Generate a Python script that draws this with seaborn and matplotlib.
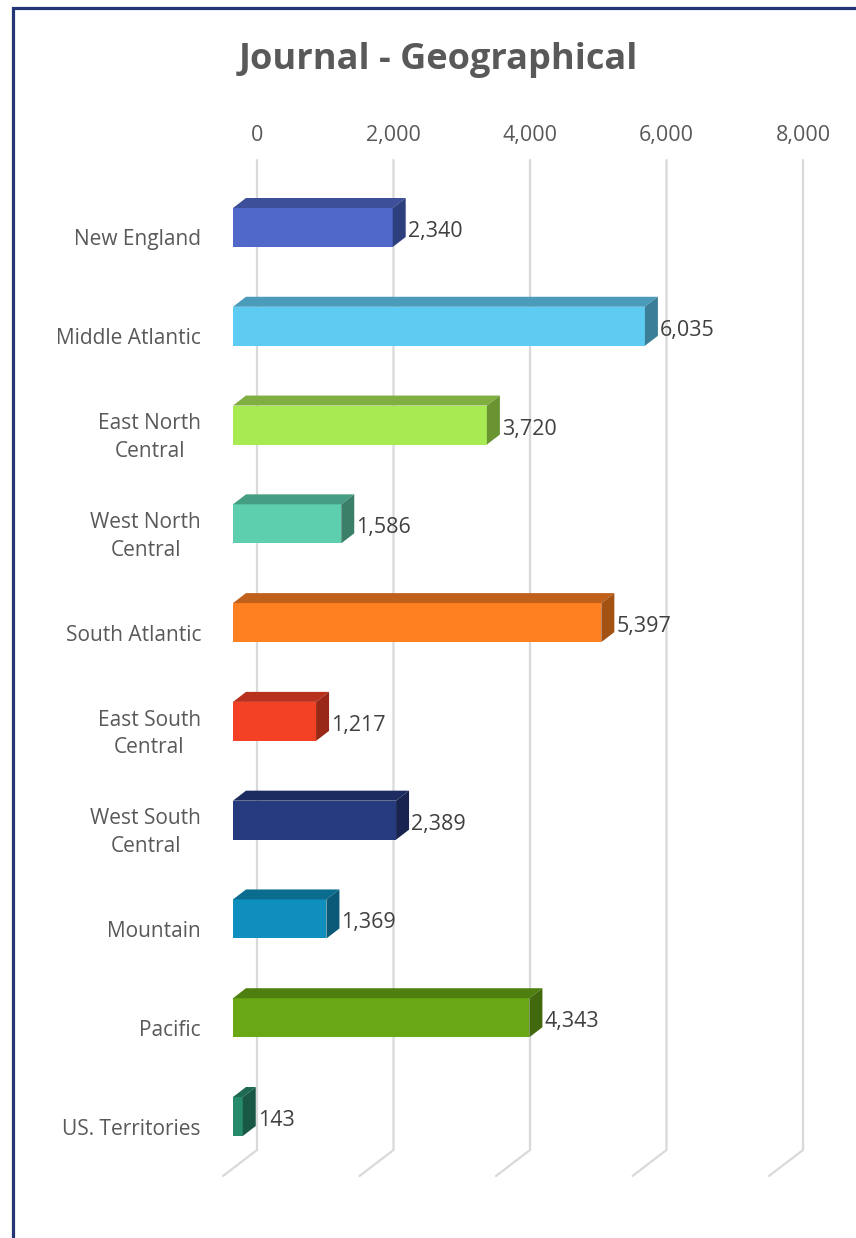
import numpy as np
import pandas as pd
import matplotlib
matplotlib.use("Agg")
import matplotlib.pyplot as plt
from matplotlib.patches import Polygon
from matplotlib.lines import Line2D
import seaborn as sns

# ---------------- data ----------------
regions = ["New England", "Middle Atlantic", "East North\nCentral", "West North\nCentral",
           "South Atlantic", "East South\nCentral", "West South\nCentral", "Mountain",
           "Pacific", "US. Territories"]
values = [2340, 6035, 3720, 1586, 5397, 1217, 2389, 1369, 4343, 143]
tick_values = [0, 2000, 4000, 6000, 8000]
tick_labels = ["0", "2,000", "4,000", "6,000", "8,000"]
title = "Journal - Geographical"

front_colors = ["#4F68C9", "#5ECBF2", "#A7EA52", "#5DCFAE", "#FF8021",
                "#F24125", "#263A7E", "#0F8FBE", "#69A814", "#278B6B"]
top_colors = ["#3C4F98", "#4A9CBA", "#80AE40", "#459E84", "#C0601A",
              "#B8311C", "#1D2C60", "#0C6C8F", "#4F7F10", "#1E6951"]
side_colors = ["#2E3F7E", "#3A7E97", "#6A9432", "#3A8069", "#A35214",
               "#992816", "#18244F", "#0A5A77", "#42690D", "#1A5846"]

# ---------------- layout ----------------
W, H, DPI = 856, 1238, 100
PXU = 136.5 / 2000.0          # pixels per data unit (x)
ROW = 98.78                   # pixels per category row
AX_L, AX_TOP, AX_BOT = 233, 160, 1150
AX_W = W - AX_L

sns.set_theme(style="white")
plt.rcParams["font.family"] = ["Open Sans", "DejaVu Sans"]

fig = plt.figure(figsize=(W / DPI, H / DPI), dpi=DPI)
fig.patch.set_facecolor("white")
ax = fig.add_axes([AX_L / W, 1 - AX_BOT / H, AX_W / W, (AX_BOT - AX_TOP) / H])

df = pd.DataFrame({"region": regions, "value": values})
sns.barplot(data=df, x="value", y="region", hue="region", palette=front_colors,
            orient="h", width=39 / ROW, legend=False, ax=ax, saturation=1,
            linewidth=0, zorder=3)

ax.set_xlim(0, AX_W / PXU)
ax.set_ylim(len(regions) - 1 + 33.5 / ROW, -67.5 / ROW)
for s in ax.spines.values():
    s.set_visible(False)
ax.set_xticks([])
ax.set_yticks([])
ax.set_xlabel("")
ax.set_ylabel("")
ax.set_facecolor("none")

# back-wall gridlines with 3D floor diagonals
back_dx = 24 / PXU
floor_dx = -34 / PXU
floor_dy = 26 / ROW
y_top, y_bot = ax.get_ylim()[1], ax.get_ylim()[0]
for t, lab in zip(tick_values, tick_labels):
    xg = t + back_dx
    ax.plot([xg, xg, xg + floor_dx], [y_top, y_bot, y_bot + floor_dy],
            color="#D9D9D9", lw=1.6, clip_on=False, zorder=1,
            solid_joinstyle="miter")
    ax.text(xg, y_top - 25 / ROW, lab, ha="center", va="center",
            fontsize=15.5, color="#595959")

# 3D faces for each bar
dx = 13 / PXU
dy = 10 / ROW
for i, p in enumerate(ax.patches):
    x0, y0 = p.get_x(), p.get_y()
    w, h = p.get_width(), p.get_height()
    yt = min(y0, y0 + h)
    yb = max(y0, y0 + h)
    top = Polygon([(x0, yt), (x0 + dx, yt - dy), (x0 + w + dx, yt - dy), (x0 + w, yt)],
                  closed=True, facecolor=top_colors[i], edgecolor="none", zorder=3)
    side = Polygon([(x0 + w, yt), (x0 + w + dx, yt - dy), (x0 + w + dx, yb - dy), (x0 + w, yb)],
                   closed=True, facecolor=side_colors[i], edgecolor="none", zorder=3)
    ax.add_patch(top)
    ax.add_patch(side)
    ax.text(x0 + w + dx + 2 / PXU, (yt + yb) / 2 + 4 / ROW, f"{values[i]:,}",
            ha="left", va="center", fontsize=15.5, color="#404040", zorder=4)

# category labels (offset slightly below bar centers)
for i, r in enumerate(regions):
    ax.text(-32 / AX_W, i + 12.5 / ROW, r, transform=ax.get_yaxis_transform(),
            ha="right", va="center", multialignment="center",
            fontsize=15, color="#595959", linespacing=1.42)

# title
fig.text(438 / W, 1 - 60 / H, title, ha="center", va="center",
         fontsize=26, fontweight="bold", color="#595959")

# chart frame (left and top edges visible)
bx = 13.5 / W
by = 1 - 7.5 / H
fig.add_artist(Line2D([bx, bx, 1.0], [0.0, by, by], transform=fig.transFigure,
                      color="#233477", lw=2.3, solid_joinstyle="miter"))

fig.savefig("out.png", dpi=DPI, facecolor="white")
